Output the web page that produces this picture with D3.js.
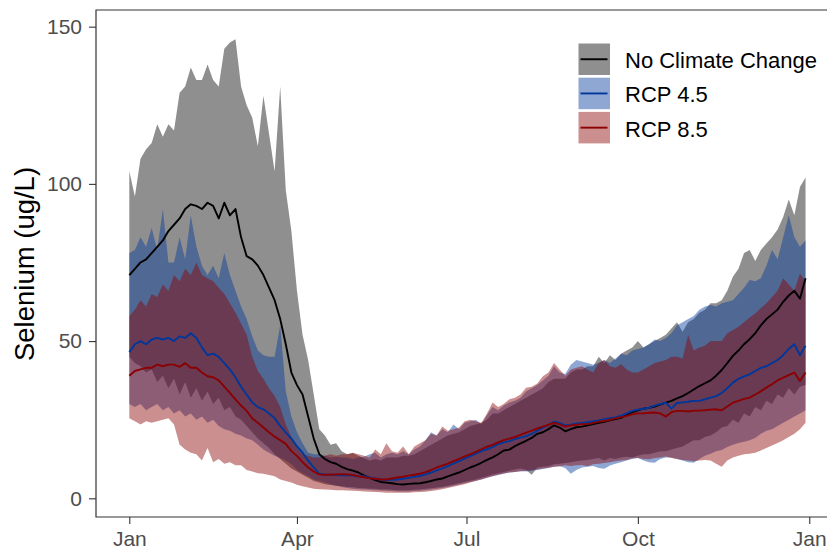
<!DOCTYPE html>
<html><head><meta charset="utf-8">
<script src="https://cdn.jsdelivr.net/npm/d3@7"></script>
<style>
body{margin:0;background:#fff}
svg{display:block}
text{font-family:"Liberation Sans",Arial,Helvetica,sans-serif}
</style>
</head><body>
<svg id="c" width="827" height="552"></svg>
<script>
// ---- data (day of year, sampled every 3 days) ----
const dayOfYear = [0,3,6,9,12,15,18,21,24,27,30,33,36,39,42,45,48,51,54,57,60,63,66,69,72,75,78,81,84,87,90,93,96,99,102,105,108,111,114,117,120,123,126,129,132,135,138,141,144,147,150,153,156,159,162,165,168,171,174,177,180,183,186,189,192,195,198,201,204,207,210,213,216,219,222,225,228,231,234,237,240,243,246,249,252,255,258,261,264,267,270,273,276,279,282,285,288,291,294,297,300,303,306,309,312,315,318,321,324,327,330,333,336,339,342,345,348,351,354,357,360,363];

const legendLabels = ["No Climate Change", "RCP 4.5", "RCP 8.5"];
const tickDates = ["2021-01-01","2021-04-01","2021-07-01","2021-10-01","2022-01-01"];
const tickLabels = ["Jan","Apr","Jul","Oct","Jan"];
const yTicks = [0, 50, 100, 150];

const ncMean = [71,73,75,76,78,80,82,85,87,89,
 92,93.5,93,92,94,93,89,94,90,92,
 83,77,76,74,71,67,63,57,49,40,
 36,33,26,19,14,12.5,11.5,11,10,9.3,
 8.8,8.2,7.3,6.5,5.8,5.2,5,4.8,4.5,4.4,
 4.6,4.7,4.8,5.1,5.5,6,6.3,7,7.6,8.2,
 9,9.8,10.5,11.3,12.2,13,14,15.2,15.5,16.6,
 17.5,18.3,19.2,20.5,21,22,23.2,22.5,21.3,22,
 22.6,22.8,23.2,23.6,24,24.3,24.8,25.2,25.6,26.6,
 27.4,28,28.5,28.8,29.2,29.8,30.4,31,31.8,32.5,
 33.5,34.6,35.7,36.6,37.5,39,40.8,43,45.3,47,
 49,50.6,52.5,55,57,58.5,60,62.5,64.5,66,
 63.5,70];
const ncUpper = [104,96,108,111,113,119,115,119,117,129,
 131,137,133,133,138,133,131,143,145,146,
 131,125,121,112,128,116,104,131,98,85,
 66,52,44,33,22,20,17,17.5,15,14,
 14.4,13.5,12.7,12,12.5,12,13,13,13,13.5,
 13.5,14,15,16,17,18,19,20,20.5,21,
 22,23,23.5,24,25,27,27,28,29,30,
 31,32,33,34,35,37,38,38,38,40,
 41,41,42,42,45,43,45.5,44,46,47,
 48,50,48,49,50,51,52,54,56,53,
 56,57,59,60,62,62,63,66,70.5,73,
 78,79,75.5,79,81,83,85.5,89.5,95,90,
 99,102];
const ncLower = [45,43,42,40,41,37,39,35,38,33,
 37,32,35,31,34,30,32,28,29,26,
 25,23,21,19,17.5,16,14,12.5,11,9.5,
 8.5,7.5,6.5,5.5,5,4.5,4.2,4,3.8,3.6,
 3.5,3.3,3.2,3,3,2.8,2.8,2.7,2.6,2.6,
 2.6,2.7,2.8,3,3.2,3.4,3.7,4,4.4,4.8,
 5.2,5.6,6,6.5,7,7.6,8,8.4,8.8,9.2,
 9.5,9,7.5,9.8,10,10.2,10.8,11,11.2,11.5,
 11.8,12,12.2,12.5,12.8,12,12.8,12.5,13,13.2,
 13,13.5,14,14,14.5,15,15,15.5,16,16.5,
 17.5,18.5,18.5,19.5,20,21,22.5,23,25,24,
 27,26,29,28,31,30,33,32,35,33,
 35.5,36];

const rcp45Mean = [46.5,49,50,49,50.5,51,50.5,51,50,51.5,
 51,52.5,51,48,45.5,46,45,43,41,38.5,
 35.5,33,30.5,29,28.3,27,25.5,23,21,19,
 16.5,14.5,12,9.8,7.8,7.5,7.5,7.4,7.3,7.4,
 7.2,7,7,6.6,6.3,6,5.8,5.9,6,6.2,
 6.5,6.8,7.1,7.6,8.2,8.9,9.5,10.2,11,11.8,
 12.6,13.4,14.2,15,15.6,16.3,17.2,17.8,18.2,18.8,
 19.3,19.8,20.5,21.5,22.5,23.3,24.4,24,23.2,23.4,
 23.8,24,24.2,24.5,24.8,25.2,25.5,25.7,26.3,27,
 27.8,28.2,28.5,28.8,29.5,30,30.4,28.5,30.3,30.5,
 30.7,31,31,31.5,32,32.5,33.5,35,36.8,38,
 38.8,39.4,40.5,41.5,42,43,44,45.5,47.5,49,
 45.5,48.5];
const rcp45Upper = [78,79,83,80,86,79,92,75,75,83,
 76,90,80,74,71,74,70,78,71,66,
 61,57,51.5,47,45.5,45,45,55,34,26,
 21,17.5,14.5,14,14,13.5,13,13.2,13,13,
 12.5,13,13.2,14,14.5,13,14,14.5,14,15,
 14,15.5,16.5,18.5,21,20,22,21,23.5,22,
 24,24.5,25,23.5,26.5,29,28,29.5,30.5,31,
 32,34,35,36,37.5,39,42,40,39.5,42.5,
 44,43.5,43,42.5,43,44,43,44.5,46,45.5,
 47,47.5,48,49,50.5,50,51,52.5,55,56,
 57,58,60,61,61.5,61,62,62.5,63,65,
 67,69.4,69,70,74,79,76,83,90,83,
 80,82];
const rcp45Lower = [30,29,30,28,29,30,28,29,27,28,
 26,27,25,26,24,25,23,22,21.5,20.5,
 20,19,18.5,17,15.5,14.5,13.5,12.8,12,10.8,
 9,8,7,6,5.5,5,4.5,4,3.6,3.3,
 3,2.9,2.8,2.7,2.6,2.5,2.4,2.3,2.2,2.2,
 2.2,2.3,2.4,2.6,2.8,3,3.3,3.6,4,4.4,
 4.8,5.2,5.6,6,6.5,7,7.4,7.8,8.2,8.4,
 8.6,8.5,8.8,9,9.3,9.6,10,10.2,9.6,7.8,
 9,9.8,10,10.3,9.6,9.4,10.4,11,11.5,12,
 12.5,12.8,12,11.5,11.3,12.5,13,13,12.5,12,
 11.5,11.3,12.5,13.5,14.2,15,15.4,16.3,17,17.6,
 18,18.5,19.2,20.5,21.5,22,23,24,25,26,
 27,28];

const rcp85Mean = [39,40.5,41,41.5,41.5,42.5,42,42.5,42.5,41.8,
 43,41.5,41.5,40,38.8,38.5,37.5,35.5,33.5,31.5,
 29.5,27.8,25.4,24,22.5,21,19.6,18.5,17.3,15,
 13.5,11.5,9.8,8.5,7.6,7.5,7.5,7.6,7.7,7.6,
 7.4,7,6.7,6.4,6.2,6,6,6.3,6.6,6.9,
 7.2,7.5,7.8,8.3,9,9.8,10.4,11,11.8,12.5,
 13.3,14,14.8,15.6,16.4,17,17.8,18.5,19,19.5,
 20.2,20.9,21.5,22.2,22.8,23.4,24,23.5,22.8,23.2,
 23.4,23.6,23.6,24,24.4,24.6,25,25.4,25.8,26.2,
 26.7,27,27,27.2,27.3,27,26,27.4,27.8,27.8,
 27.6,27.9,27.9,28,28.2,28.3,28,29.2,30.4,31,
 31.6,32,33,34,35.2,36.3,37.5,38.4,39.2,40,
 37.3,40];
const rcp85Upper = [58,60,63,61,65,64,68,66,71,69,
 73,71,75,71,70,69,67,65,62,59,
 55.5,52,45,40.5,38,35,32.5,29,23.5,19.5,
 16,14,13.5,13,13,13.5,14,13.5,14,14,
 14.5,14,13.5,13,15.5,14,17.5,15,14.5,16.5,
 14,16.5,17.5,18.5,20.5,20,22.8,21.5,22,22.5,
 24.5,25,24.5,24,27,30.5,29,30,31.5,32,
 33,35.2,35.5,36.5,38.8,40,43,41,39,41,
 41.5,42,41,40,43,44,42,41.5,42.6,41,
 40,40,41,42,43,43.5,44,45,45,44.5,
 52,47,48,48.5,50,50,50,52.5,53.5,54.6,
 56,57.5,58.8,60.5,62,64,66,70,68,66,
 71.5,69];
const rcp85Lower = [25.5,24.5,23.5,24.5,24,24.5,25,25.5,23.5,17,
 15.5,14.5,14,12,16,11.5,12.5,11,11.5,10.5,
 10.5,9,8.5,8,7.8,7.4,7,6,5.5,5,
 4.3,3.8,3.4,3,2.9,2.8,2.7,2.6,2.6,2.5,
 2.4,2.3,2.2,2.1,2,1.9,1.8,1.8,1.8,1.8,
 1.8,1.9,2,2.1,2.3,2.6,2.9,3.3,3.7,4.1,
 4.5,5,5.5,6,6.5,7,7.5,7.9,8.2,8.4,
 8.6,8.8,9,9.2,9.5,9.7,10,10.2,10.5,10.3,
 10.5,10.6,10.2,10.8,11,11.2,11.5,11.8,12,12.2,
 12.7,12.8,12.5,12.4,12.8,13,13.3,12.8,12.5,12.2,
 12,11.8,12,12.2,12,11,10,12,13,13.5,
 14,14.2,14.5,15.2,16,16.8,17.6,18.5,19.5,20.5,
 22,24];

// ---- styling ----
const colors = ["#000000", "#00379a", "#8b0000"];
const FILL_ALPHA = 0.44;

const scenarios = [
  {name: legendLabels[0], color: colors[0], mean: ncMean, lo: ncLower, hi: ncUpper},
  {name: legendLabels[1], color: colors[1], mean: rcp45Mean, lo: rcp45Lower, hi: rcp45Upper},
  {name: legendLabels[2], color: colors[2], mean: rcp85Mean, lo: rcp85Lower, hi: rcp85Upper}
];

const DAY = 86400000;
const t0 = Date.UTC(2021, 0, 1);
const toDate = d => new Date(t0 + d * DAY);

const svg = d3.select("#c");
const x = d3.scaleUtc().domain([toDate(-18.2), toDate(382.2)]).range([95.4, 841.3]);
const y = d3.scaleLinear().domain([-5.85, 155.3]).range([516.7, 10]);

const panel = {left: 96, top: 10, bottom: 517};

svg.append("defs").append("clipPath").attr("id", "clip")
  .append("rect").attr("x", panel.left).attr("y", panel.top)
  .attr("width", 827 - panel.left).attr("height", panel.bottom - panel.top);

const g = svg.append("g").attr("clip-path", "url(#clip)");

scenarios.forEach(s => {
  const area = d3.area()
    .x((d, i) => x(toDate(dayOfYear[i])))
    .y0((d, i) => y(s.lo[i]))
    .y1((d, i) => y(s.hi[i]));
  g.append("path").datum(s.hi).attr("d", area)
    .attr("fill", s.color).attr("fill-opacity", FILL_ALPHA).attr("stroke", "none");
});
scenarios.forEach(s => {
  const line = d3.line()
    .x((d, i) => x(toDate(dayOfYear[i])))
    .y(d => y(d));
  g.append("path").datum(s.mean).attr("d", line)
    .attr("fill", "none").attr("stroke", s.color).attr("stroke-width", 1.9)
    .attr("stroke-linejoin", "round");
});

// ---- axes ----
const yAxis = svg.append("g").attr("transform", `translate(${panel.left},0)`)
  .call(d3.axisLeft(y).tickValues(yTicks).tickSize(7).tickPadding(7));
const xAxis = svg.append("g").attr("transform", `translate(0,${panel.bottom})`)
  .call(d3.axisBottom(x).tickValues(tickDates.map(d => new Date(d + "T00:00:00Z")))
    .tickFormat((d, i) => tickLabels[i]).tickSize(7).tickPadding(7));
[yAxis, xAxis].forEach(a => {
  a.select(".domain").remove();
  a.selectAll(".tick line").attr("stroke", "#333333").attr("stroke-width", 1.1);
  a.selectAll(".tick text").attr("fill", "#4d4d4d").style("font-size", "21px")
    .style("font-family", '"Liberation Sans", Arial, sans-serif');
});

// panel border (left, top, bottom)
svg.append("path")
  .attr("d", `M827,${panel.top}H${panel.left}V${panel.bottom}H827`)
  .attr("fill", "none").attr("stroke", "#333333").attr("stroke-width", 1.2);

// y title
svg.append("text")
  .attr("transform", `translate(33.5,264) rotate(-90)`)
  .attr("text-anchor", "middle")
  .style("font-size", "27.5px").attr("fill", "#000")
  .text("Selenium (ug/L)");

// ---- legend ----
const leg = svg.append("g");
scenarios.forEach((s, i) => {
  const ky = 43.5 + i * 34.2;
  leg.append("rect").attr("x", 578.5).attr("y", ky).attr("width", 31.5).attr("height", 31.5)
    .attr("fill", s.color).attr("fill-opacity", FILL_ALPHA);
  leg.append("line").attr("x1", 580.5).attr("x2", 607.5).attr("y1", ky + 15.75).attr("y2", ky + 15.75)
    .attr("stroke", s.color).attr("stroke-width", 1.9);
  leg.append("text").attr("x", 625).attr("y", ky + 15.75 + 8.9)
    .style("font-size", "22px").attr("fill", "#000").text(s.name);
});
</script>
</body></html>
